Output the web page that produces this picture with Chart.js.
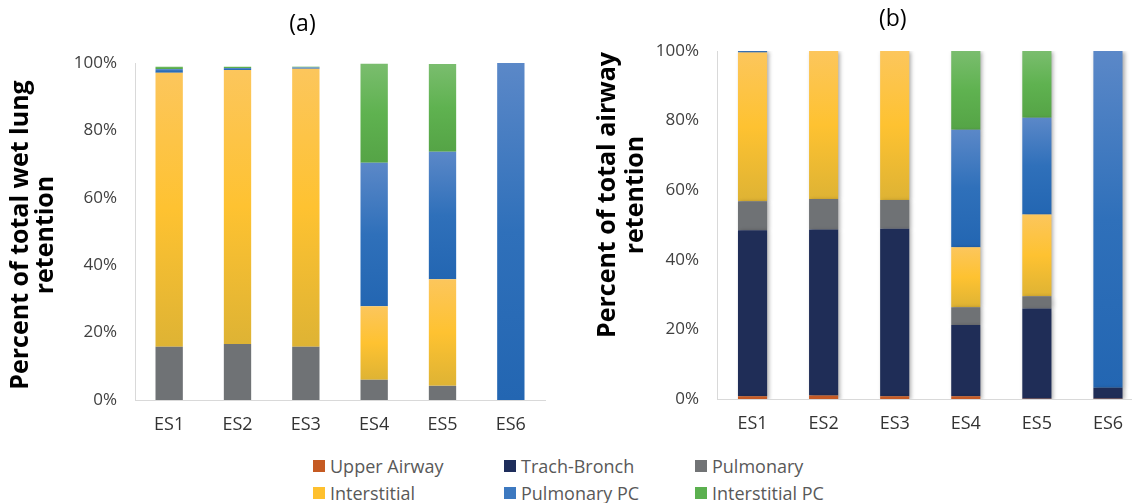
<!DOCTYPE html>
<html>
<head>
<meta charset="utf-8">
<title>Retention by exposure scenario</title>
<script src="https://cdn.jsdelivr.net/npm/chart.js@4.4.1/dist/chart.umd.min.js"></script>
<style>
  html, body { margin: 0; padding: 0; background: #fff; overflow: hidden; width: 1132px; height: 503px; }
  #wrap { position: relative; width: 1132px; height: 503px; overflow: hidden; }
  canvas { position: absolute; top: 0; }
  #cA { left: 0; }
  #cB { left: 590px; }
  #legend {
    position: absolute; left: 313px; top: 452px;
    display: grid; grid-template-columns: 191px 191px 191px; grid-auto-rows: 27px;
    font-family: "Open Sans", Lato, sans-serif; font-size: 18px; color: #595959;
  }
  .item { display: flex; align-items: center; white-space: nowrap; }
  .sw { width: 12px; height: 12px; margin-right: 5px; flex: none; }
</style>
</head>
<body>
<div id="wrap">
  <canvas id="cA" width="565" height="445"></canvas>
  <canvas id="cB" width="575" height="445"></canvas>
  <div id="legend"></div>
</div>
<script>
// Exposure scenarios and y-axis ticks
const categories = ['ES1', 'ES2', 'ES3', 'ES4', 'ES5', 'ES6'];
const yTicks = [0, 20, 40, 60, 80, 100];
const seriesNames = ['Upper Airway', 'Trach-Bronch', 'Pulmonary', 'Interstitial', 'Pulmonary PC', 'Interstitial PC'];

// (a) percent of total wet lung retention
const wetUpperAirway   = [0, 0, 0, 0, 0, 0];
const wetTrachBronch   = [0, 0, 0, 0, 0, 0];
const wetPulmonary     = [15.8, 16.6, 15.8, 6.0, 4.2, 0];
const wetInterstitial  = [81.3, 81.3, 82.5, 21.8, 31.6, 0];
const wetPulmonaryPC   = [1.1, 0.6, 0.4, 42.6, 37.9, 100];
const wetInterstitialPC = [0.7, 0.4, 0.2, 29.4, 26.0, 0];

// (b) percent of total airway retention
const awUpperAirway    = [0.8, 1.0, 0.8, 0.8, 0.1, 0.1];
const awTrachBronch    = [47.7, 47.7, 48.1, 20.5, 25.9, 3.1];
const awPulmonary      = [8.3, 8.8, 8.3, 5.1, 3.5, 0];
const awInterstitial   = [42.8, 42.5, 42.8, 17.2, 23.5, 0];
const awPulmonaryPC    = [0.4, 0, 0, 33.8, 27.8, 96.8];
const awInterstitialPC = [0, 0, 0, 22.6, 19.2, 0];

// Fill styles per series: [top, middle, bottom] of each segment's vertical gradient
const fills = [
  ['#C55A25', '#C55A25', '#C55A25'],
  ['#1F2D57', '#1F2D57', '#1F2D57'],
  ['#6F7275', '#6F7275', '#6F7275'],
  ['#FCC65C', '#FEC231', '#DEB334'],
  ['#5B88C8', '#2F70BA', '#2366B2'],
  ['#7ABD6E', '#5FB250', '#55A446']
];
const swatches = ['#C55A22', '#1E2D5B', '#717375', '#FEC02E', '#3D79C0', '#5BB04F'];

const FONT = '"Open Sans", Lato, sans-serif';
Chart.defaults.font.family = FONT;
Chart.defaults.animation = false;

// Segment gradient computed from the stacked start/end values through the y scale
function segmentFill(stops) {
  return (c) => {
    const chart = c.chart;
    const y = chart.scales && chart.scales.y;
    if (!y || c.type !== 'data' || stops[0] === stops[2]) return stops[1];
    const ds = chart.data.datasets;
    let base = 0;
    for (let k = 0; k < c.datasetIndex; k++) base += ds[k].data[c.dataIndex] || 0;
    const top = base + (ds[c.datasetIndex].data[c.dataIndex] || 0);
    const y0 = y.getPixelForValue(top), y1 = y.getPixelForValue(base);
    if (!isFinite(y0) || !isFinite(y1) || y1 - y0 < 1) return stops[1];
    const g = chart.ctx.createLinearGradient(0, y0, 0, y1);
    g.addColorStop(0, stops[0]);
    g.addColorStop(0.5, stops[1]);
    g.addColorStop(1, stops[2]);
    return g;
  };
}

// Rotated, two-line y-axis title
const yTitlePlugin = {
  id: 'yTitle',
  afterDraw(chart, args, opts) {
    const ctx = chart.ctx;
    ctx.save();
    ctx.fillStyle = opts.color || '#000';
    ctx.font = 'bold ' + opts.size + 'px ' + FONT;
    ctx.textAlign = 'center';
    ctx.textBaseline = 'middle';
    opts.lines.forEach((line, i) => {
      ctx.save();
      ctx.translate(opts.xs[i], opts.cy);
      ctx.rotate(-Math.PI / 2);
      ctx.fillText(line, 0, 0);
      ctx.restore();
    });
    ctx.restore();
  }
};

// Soft drop shadow behind bars
const barShadowPlugin = {
  id: 'barShadow',
  beforeDatasetsDraw(chart, args, opts) {
    if (!opts.enabled) return;
    const ctx = chart.ctx;
    ctx.save();
    ctx.shadowColor = 'rgba(0,0,0,0.32)';
    ctx.shadowBlur = 4;
    ctx.shadowOffsetX = 2;
    ctx.shadowOffsetY = 1;
  },
  afterDatasetsDraw(chart, args, opts) {
    if (!opts.enabled) return;
    chart.ctx.restore();
  }
};

function makeDatasets(seriesData, barPct) {
  return seriesData.map((data, i) => ({
    label: seriesNames[i],
    data: data,
    backgroundColor: segmentFill(fills[i]),
    borderWidth: 0,
    barPercentage: barPct,
    categoryPercentage: 1
  }));
}

function makeChart(canvas, cfg) {
  return new Chart(canvas, {
    type: 'bar',
    data: { labels: categories, datasets: makeDatasets(cfg.series, cfg.barPct) },
    plugins: [yTitlePlugin, barShadowPlugin],
    options: {
      responsive: false,
      animation: false,
      layout: { padding: cfg.padding },
      plugins: {
        legend: { display: false },
        tooltip: { enabled: false },
        title: {
          display: true,
          text: cfg.title,
          color: '#000',
          font: { size: 23, weight: 'normal' },
          padding: cfg.titlePad
        },
        yTitle: cfg.yTitle,
        barShadow: { enabled: cfg.shadow }
      },
      scales: {
        x: {
          stacked: true,
          grid: { display: false, drawTicks: false },
          border: { display: true, color: '#D9D9D9', width: 1 },
          ticks: { color: '#333', font: { size: 18 }, padding: 14, maxRotation: 0 },
          afterFit: (s) => { s.height = 40; }
        },
        y: {
          stacked: true,
          min: 0,
          max: 100,
          afterBuildTicks: (s) => { s.ticks = yTicks.map(v => ({ value: v })); },
          grid: { display: false, drawTicks: false },
          border: { display: true, color: '#D9D9D9', width: 1 },
          ticks: { color: '#404040', font: { size: 17 }, padding: cfg.tickPad, callback: (v) => v + '%' },
          afterFit: (s) => { s.width = 75; }
        }
      }
    }
  });
}

makeChart(document.getElementById('cA'), {
  title: '(a)',
  series: [wetUpperAirway, wetTrachBronch, wetPulmonary, wetInterstitial, wetPulmonaryPC, wetInterstitialPC],
  barPct: 0.4,
  padding: { left: 60, right: 20, top: 0, bottom: 5 },
  titlePad: { top: 11, bottom: 24.4 },
  tickPad: 18,
  shadow: false,
  yTitle: { lines: ['Percent of total wet lung', 'retention'], xs: [21, 46], cy: 235, size: 25, color: '#000' }
});

makeChart(document.getElementById('cB'), {
  title: '(b)',
  series: [awUpperAirway, awTrachBronch, awPulmonary, awInterstitial, awPulmonaryPC, awInterstitialPC],
  barPct: 0.41,
  padding: { left: 52, right: 21.5, top: 0, bottom: 6 },
  titlePad: { top: 6, bottom: 17.4 },
  tickPad: 18,
  shadow: true,
  yTitle: { lines: ['Percent of total airway', 'retention'], xs: [18, 46], cy: 195, size: 25, color: '#000' }
});

// Shared legend below both panels
const legend = document.getElementById('legend');
seriesNames.forEach((name, i) => {
  const item = document.createElement('div');
  item.className = 'item';
  const sw = document.createElement('span');
  sw.className = 'sw';
  sw.style.background = swatches[i];
  const tx = document.createElement('span');
  tx.textContent = name;
  item.appendChild(sw);
  item.appendChild(tx);
  legend.appendChild(item);
});
</script>
</body>
</html>
